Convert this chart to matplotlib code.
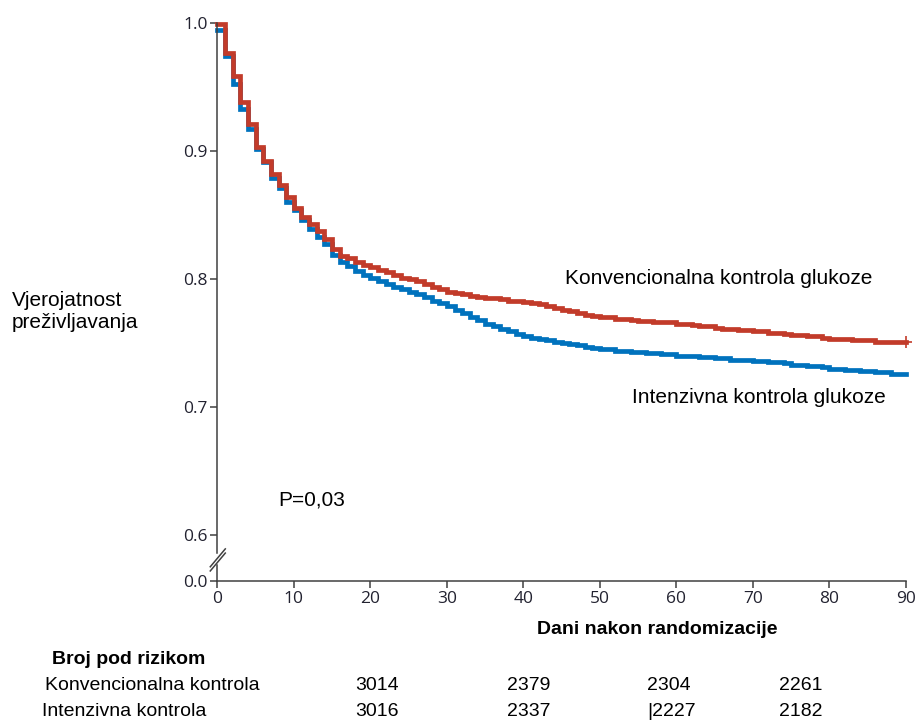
import matplotlib
matplotlib.use("Agg")
import matplotlib.pyplot as plt
import numpy as np

# %% data
days = list(range(0, 91))

konv = [0.999, 0.976, 0.958, 0.938, 0.921, 0.903, 0.892, 0.882, 0.873, 0.864,
        0.855, 0.848, 0.843, 0.837, 0.831, 0.823, 0.818, 0.816, 0.813, 0.811,
        0.809, 0.807, 0.805, 0.803, 0.801, 0.800, 0.798, 0.796, 0.794, 0.792,
        0.790, 0.789, 0.788, 0.787, 0.786, 0.785, 0.785, 0.784, 0.783, 0.783,
        0.782, 0.781, 0.780, 0.779, 0.777, 0.776, 0.775, 0.773, 0.772, 0.771,
        0.770, 0.770, 0.769, 0.769, 0.768, 0.767, 0.767, 0.766, 0.766, 0.766,
        0.765, 0.765, 0.764, 0.763, 0.763, 0.762, 0.761, 0.761, 0.760, 0.760,
        0.759, 0.759, 0.758, 0.758, 0.757, 0.756, 0.756, 0.755, 0.755, 0.754,
        0.753, 0.753, 0.753, 0.752, 0.752, 0.752, 0.751, 0.751, 0.751, 0.751,
        0.751]

inten = [0.994, 0.974, 0.952, 0.933, 0.917, 0.901, 0.891, 0.879, 0.871, 0.860,
         0.854, 0.846, 0.839, 0.833, 0.827, 0.819, 0.813, 0.810, 0.806, 0.803,
         0.801, 0.798, 0.796, 0.794, 0.792, 0.790, 0.788, 0.786, 0.783, 0.781,
         0.779, 0.776, 0.773, 0.770, 0.768, 0.765, 0.763, 0.761, 0.759, 0.757,
         0.755, 0.754, 0.753, 0.752, 0.751, 0.750, 0.749, 0.748, 0.747, 0.746,
         0.745, 0.745, 0.744, 0.744, 0.743, 0.743, 0.742, 0.742, 0.741, 0.741,
         0.740, 0.740, 0.740, 0.739, 0.739, 0.738, 0.738, 0.737, 0.737, 0.737,
         0.736, 0.736, 0.735, 0.735, 0.734, 0.733, 0.733, 0.732, 0.732, 0.731,
         0.730, 0.730, 0.729, 0.729, 0.728, 0.728, 0.727, 0.727, 0.726, 0.726,
         0.726]

xticks = [0, 10, 20, 30, 40, 50, 60, 70, 80, 90]
yticks = [0.6, 0.7, 0.8, 0.9, 1.0]

risk_groups = ['Konvencionalna kontrola', 'Intenzivna kontrola']
risk_konv = ['3014', '2379', '2304', '2261']
risk_inten = ['3016', '2337', '|2227', '2182']

# %% style
red = '#C23B2A'
blue = '#0072BD'
axcol = '#404040'
txtfont = 'Liberation Sans'
tickfont = 'Open Sans'

ybreak = 0.5641   # where the "0.0" of the broken axis sits

fig = plt.figure(figsize=(9.18, 7.2), dpi=100)
ax = fig.add_axes([217.3 / 918, 1 - 581 / 720, (906 - 217.3) / 918, (581 - 22.7) / 720])

ax.plot(days, inten, drawstyle='steps-post', color=blue, lw=3.4, clip_on=False,
        solid_joinstyle='miter')
ax.plot(days, konv, drawstyle='steps-post', color=red, lw=3.4, clip_on=False,
        solid_joinstyle='miter')
# censor mark at the end of the red curve
ax.plot([days[-1]], [konv[-1]], marker='+', color=red, ms=9, mew=1.2, clip_on=False)

ax.set_xlim(0, 90)
ax.set_ylim(ybreak, 1.0)
ax.set_xticks(xticks)
ax.set_xticklabels([str(t) for t in xticks])
ax.set_yticks([ybreak] + yticks)
ax.set_yticklabels(['0.0'] + ['%.1f' % t for t in yticks])

for s in ['top', 'right']:
    ax.spines[s].set_visible(False)
for s in ['left', 'bottom']:
    ax.spines[s].set_color(axcol)
    ax.spines[s].set_linewidth(1.1)
ax.spines['left'].set_bounds(0.586, 1.0)
ax.plot([0, 0], [ybreak, 0.5766], color=axcol, lw=1.1, clip_on=False)

# break marks
for off in [0.0, 0.0075]:
    ax.plot([-0.0102, 0.0116], [0.018 + off, 0.050 + off], transform=ax.transAxes,
            color=axcol, lw=1.1, clip_on=False)

ax.tick_params(direction='out', length=5, width=1.1, color=axcol,
               labelsize=12.5, labelcolor='#222230', pad=2)
for lab in ax.get_xticklabels() + ax.get_yticklabels():
    lab.set_family(tickfont)

# annotations
ax.text(45.4, 0.800, 'Konvencionalna kontrola glukoze', fontsize=15, family=txtfont,
        ha='left', va='center')
ax.text(54.2, 0.707, 'Intenzivna kontrola glukoze', fontsize=15, family=txtfont,
        ha='left', va='center')
ax.text(7.9, 0.627, 'P=0,03', fontsize=15, family=txtfont, ha='left', va='center')

fig.text(12 / 918, 1 - 311.5 / 720, 'Vjerojatnost\npreživljavanja', fontsize=15,
         family=txtfont, ha='left', va='center', linespacing=1.25)
fig.text(657 / 918, 1 - 630 / 720, 'Dani nakon randomizacije', fontsize=14,
         family=txtfont, weight='bold', ha='center', va='center')

# number at risk table
fig.text(52 / 918, 1 - 660 / 720, 'Broj pod rizikom', fontsize=14, family=txtfont,
         weight='bold', ha='left', va='center')
row_y = [686, 711]
row_x = [45, 42]
col_x = [355, 507, 647, 779]
for r, (name, vals) in enumerate(zip(risk_groups, [risk_konv, risk_inten])):
    fig.text(row_x[r] / 918, 1 - row_y[r] / 720, name, fontsize=14, family=txtfont,
             ha='left', va='center')
    for c, v in enumerate(vals):
        fig.text(col_x[c] / 918, 1 - row_y[r] / 720, v, fontsize=14, family=txtfont,
                 ha='left', va='center')

fig.savefig('out.png', dpi=100)
